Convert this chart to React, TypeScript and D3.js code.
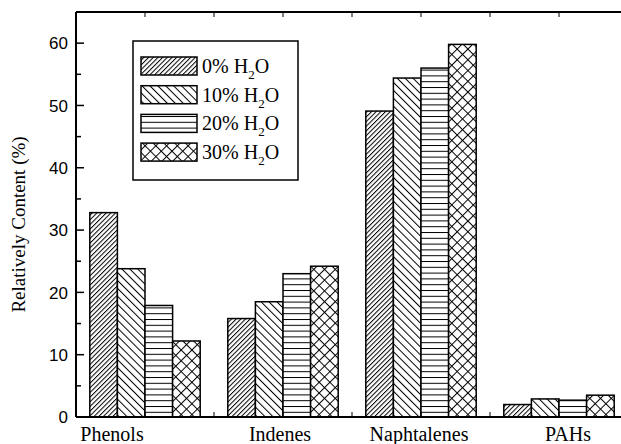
import * as d3 from "d3";

const categories = ["Phenols", "Indenes", "Naphtalenes", "PAHs"];
const series = ["0%", "10%", "20%", "30%"];
const water0 = [32.8, 15.8, 49.1, 2.0];
const water10 = [23.8, 18.5, 54.4, 2.9];
const water20 = [17.9, 23.0, 56.0, 2.7];
const water30 = [12.2, 24.2, 59.8, 3.5];
const yTicks = [0, 10, 20, 30, 40, 50, 60];

const values = [water0, water10, water20, water30];
// hand-placed category labels in the original, nudge in px
const labelNudge = [-33, -3, -2, 9];

const W = 621;
const H = 444;
const margin = { top: 12, right: -7, bottom: 27, left: 76 };

export default function App() {
  const x0 = d3.scaleBand()
    .domain(categories)
    .range([margin.left, W - margin.right])
    .paddingInner(0.2)
    .paddingOuter(0.1);

  const x1 = d3.scaleBand()
    .domain(series)
    .range([0, x0.bandwidth()]);

  const y = d3.scaleLinear()
    .domain([0, 65])
    .range([H - margin.bottom, margin.top]);

  const minorY = d3.range(5, 65, 10);
  const step = x0.step();
  const xTicks = categories.flatMap(c => [x0(c)! + x0.bandwidth() / 2, x0(c)! + x0.bandwidth() / 2 + step / 2]);

  const serif = "'Liberation Serif', 'Times New Roman', serif";
  const sans = "'Liberation Sans', Arial, sans-serif";
  const patterns = ["hatch0", "hatch1", "hatch2", "hatch3"];

  const legendX = 133, legendY = 41;

  return (
    <svg width={W} height={H} style={{ position: "absolute", left: 0, top: 0 }}>
      <defs>
        <pattern id="hatch0" patternUnits="userSpaceOnUse" width={3.3} height={10} patternTransform="rotate(45)">
          <rect width={3.3} height={10} fill="#fff" />
          <line x1={0.5} y1={0} x2={0.5} y2={10} stroke="#000" strokeWidth={1} />
        </pattern>
        <pattern id="hatch1" patternUnits="userSpaceOnUse" width={5.6} height={10} patternTransform="rotate(-45)">
          <rect width={5.6} height={10} fill="#fff" />
          <line x1={0.5} y1={0} x2={0.5} y2={10} stroke="#000" strokeWidth={1} />
        </pattern>
        <pattern id="hatch2" patternUnits="userSpaceOnUse" width={10} height={5.8}>
          <rect width={10} height={5.8} fill="#fff" />
          <line x1={0} y1={0.5} x2={10} y2={0.5} stroke="#000" strokeWidth={1} />
        </pattern>
        <pattern id="hatch3" patternUnits="userSpaceOnUse" width={7.6} height={7.6} patternTransform="rotate(45)">
          <rect width={7.6} height={7.6} fill="#fff" />
          <line x1={0.5} y1={0} x2={0.5} y2={7.6} stroke="#000" strokeWidth={1} />
          <line x1={0} y1={0.5} x2={7.6} y2={0.5} stroke="#000" strokeWidth={1} />
        </pattern>
      </defs>

      {/* bars */}
      {categories.map((c, ci) => (
        <g key={c} transform={`translate(${x0(c)},0)`}>
          {series.map((s, si) => (
            <rect
              key={s}
              x={x1(s)}
              y={y(values[si][ci])}
              width={x1.bandwidth()}
              height={y(0) - y(values[si][ci])}
              fill={`url(#${patterns[si]})`}
              stroke="#000"
              strokeWidth={1.5}
            />
          ))}
        </g>
      ))}

      {/* frame */}
      <line x1={margin.left} x2={W} y1={margin.top} y2={margin.top} stroke="#000" strokeWidth={2} />
      <line x1={margin.left} x2={W} y1={y(0)} y2={y(0)} stroke="#000" strokeWidth={2} />
      <line x1={margin.left} x2={margin.left} y1={margin.top} y2={y(0)} stroke="#000" strokeWidth={2} />

      {xTicks.map((t, i) => (
        <g key={i}>
          <line x1={t} x2={t} y1={margin.top} y2={margin.top + 5} stroke="#000" strokeWidth={1} />
          <line x1={t} x2={t} y1={y(0)} y2={y(0) - 5} stroke="#000" strokeWidth={1} />
        </g>
      ))}

      {/* y axis ticks */}
      {yTicks.map(t => (
        <g key={t}>
          <line x1={margin.left} x2={margin.left + 8} y1={y(t)} y2={y(t)} stroke="#000" strokeWidth={1.5} />
          <text x={margin.left - 8} y={y(t)} dy="0.36em" textAnchor="end" fontFamily={sans} fontSize={17}>{t}</text>
        </g>
      ))}
      {minorY.map(t => (
        <line key={t} x1={margin.left} x2={margin.left + 5} y1={y(t)} y2={y(t)} stroke="#000" strokeWidth={1.5} />
      ))}

      {/* category labels */}
      {categories.map((c, i) => (
        <text key={c} x={x0(c)! + x0.bandwidth() / 2 + labelNudge[i]} y={441} textAnchor="middle" fontFamily={serif} fontSize={20}>{c}</text>
      ))}

      <text transform={`translate(25,${(y(0) + margin.top) / 2 + 10}) rotate(-90)`} textAnchor="middle" fontFamily={serif} fontSize={19}>
        Relatively Content (%)
      </text>

      {/* legend */}
      <rect x={legendX} y={legendY} width={165} height={139} fill="#fff" stroke="#000" strokeWidth={1.5} />
      {series.map((s, i) => {
        const ry = legendY + 16 + i * 28.7;
        return (
          <g key={s}>
            <rect x={legendX + 8} y={ry} width={56} height={18} fill={`url(#${patterns[i]})`} stroke="#000" strokeWidth={1.5} />
            <text x={legendX + 69} y={ry + 16} fontFamily={serif} fontSize={20}>
              {s} H<tspan fontSize={13} dy={6}>2</tspan><tspan dy={-6}>O</tspan>
            </text>
          </g>
        );
      })}
    </svg>
  );
}
